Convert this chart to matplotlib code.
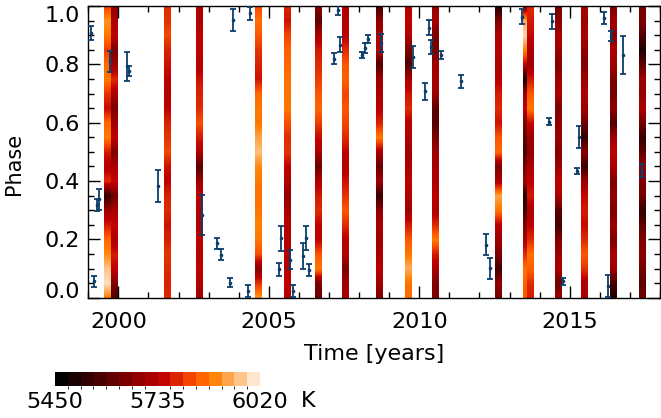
import numpy as np
import matplotlib
matplotlib.use('Agg')
import matplotlib.pyplot as plt
from matplotlib.colors import ListedColormap, Normalize, BoundaryNorm
from matplotlib.ticker import MultipleLocator, FixedLocator
import matplotlib.cm as cm

# ---------------- data ----------------
phase_grid = [0.00, 0.05, 0.10, 0.15, 0.20, 0.25, 0.30, 0.35, 0.40, 0.45, 0.50,
              0.55, 0.60, 0.65, 0.70, 0.75, 0.80, 0.85, 0.90, 0.95, 1.00]

stripe_epochs = [1999.63, 1999.855, 2001.63, 2002.69, 2004.64, 2005.61, 2006.66,
                 2007.53, 2008.67, 2009.63, 2010.53, 2012.64, 2013.55, 2013.70,
                 2014.61, 2015.49, 2016.46, 2017.41]

# temperature (K) along phase, bottom (phase 0) to top (phase 1)
T_1999a = [5890, 6010, 5980, 5910, 5870, 5780, 5700, 5530, 5800, 5730, 5780, 5890, 5870, 5760, 5810, 5890, 5870, 5820, 5890, 5920, 5820]
T_1999b = [5580, 5650, 5750, 5780, 5720, 5760, 5720, 5630, 5760, 5720, 5650, 5750, 5700, 5650, 5720, 5800, 5700, 5650, 5750, 5720, 5670]
T_2001 = [5800, 5790, 5800, 5810, 5790, 5770, 5800, 5790, 5750, 5770, 5830, 5810, 5790, 5750, 5730, 5750, 5770, 5790, 5830, 5810, 5800]
T_2002 = [5700, 5730, 5750, 5730, 5750, 5720, 5730, 5750, 5700, 5590, 5730, 5780, 5840, 5800, 5790, 5770, 5730, 5750, 5750, 5720, 5730]
T_2004 = [5930, 5810, 5660, 5840, 5890, 5900, 5890, 5880, 5890, 5910, 5970, 5940, 5890, 5890, 5870, 5770, 5790, 5810, 5850, 5880, 5830]
T_2005 = [5730, 5750, 5740, 5740, 5730, 5740, 5720, 5680, 5730, 5750, 5810, 5800, 5840, 5890, 5880, 5880, 5870, 5860, 5830, 5770, 5790]
T_2006 = [5620, 5640, 5890, 5850, 5750, 5750, 5800, 5780, 5730, 5620, 5720, 5760, 5820, 5870, 5850, 5820, 5800, 5780, 5720, 5600, 5670]
T_2007 = [5720, 5700, 5650, 5730, 5740, 5800, 5850, 5810, 5770, 5730, 5750, 5800, 5830, 5850, 5830, 5860, 5850, 5800, 5740, 5730, 5730]
T_2008 = [5650, 5700, 5740, 5720, 5700, 5720, 5680, 5540, 5700, 5620, 5720, 5890, 5790, 5740, 5720, 5700, 5580, 5740, 5720, 5670, 5560]
T_2009 = [5870, 5880, 5950, 5890, 5850, 5780, 5700, 5730, 5750, 5720, 5700, 5730, 5740, 5800, 5770, 5720, 5580, 5650, 5730, 5750, 5730]
T_2010 = [5650, 5650, 5720, 5780, 5890, 5800, 5720, 5750, 5720, 5720, 5700, 5650, 5580, 5600, 5700, 5720, 5700, 5630, 5650, 5720, 5680]
T_2012 = [5630, 5680, 5560, 5650, 5700, 5740, 5890, 5940, 5720, 5650, 5870, 5850, 5770, 5800, 5780, 5740, 5720, 5740, 5720, 5650, 5500]
T_2013a = [5850, 5860, 5880, 5800, 5720, 5650, 5560, 5500, 5700, 5650, 5560, 5600, 5650, 5750, 5700, 5480, 5750, 5900, 6000, 5950, 5650]
T_2013b = [5780, 5800, 5860, 5880, 5800, 5750, 5720, 5780, 5750, 5720, 5680, 5700, 5760, 5890, 5850, 5780, 5700, 5720, 5760, 5780, 5800]
T_2014 = [5700, 5630, 5720, 5700, 5650, 5560, 5590, 5720, 5750, 5700, 5650, 5700, 5680, 5650, 5720, 5700, 5650, 5700, 5720, 5670, 5630]
T_2015 = [5720, 5720, 5810, 5850, 5800, 5760, 5780, 5760, 5700, 5540, 5670, 5530, 5630, 5700, 5720, 5700, 5650, 5680, 5720, 5700, 5720]
T_2016 = [5500, 5560, 5700, 5720, 5650, 5700, 5650, 5680, 5650, 5720, 5750, 5700, 5580, 5680, 5630, 5650, 5700, 5720, 5670, 5700, 5650]
T_2017 = [5620, 5600, 5630, 5670, 5650, 5600, 5530, 5630, 5650, 5680, 5600, 5540, 5630, 5720, 5680, 5700, 5600, 5500, 5580, 5650, 5630]

stripe_temps = [T_1999a, T_1999b, T_2001, T_2002, T_2004, T_2005, T_2006, T_2007,
                T_2008, T_2009, T_2010, T_2012, T_2013a, T_2013b, T_2014, T_2015,
                T_2016, T_2017]

obs_year = [1999.09, 1999.19, 1999.29, 1999.37, 1999.71, 2000.30, 2000.36, 2001.33,
            2002.77, 2003.27, 2003.40, 2003.71, 2003.80, 2004.38, 2004.30, 2005.42,
            2005.33, 2005.71, 2005.81, 2006.14, 2006.24, 2006.33, 2007.29, 2007.36,
            2007.18, 2008.10, 2008.19, 2008.31, 2008.72, 2009.78, 2010.31, 2010.38,
            2010.73, 2010.18, 2011.37, 2012.23, 2012.34, 2013.41, 2014.40, 2014.32,
            2015.32, 2015.25, 2014.79, 2016.26, 2016.15, 2016.37, 2016.77, 2017.39]
obs_phase = [0.907, 0.056, 0.317, 0.337, 0.810, 0.793, 0.777, 0.384,
             0.283, 0.187, 0.148, 0.052, 0.951, 0.975, 0.023, 0.203,
             0.098, 0.130, 0.024, 0.143, 0.204, 0.095, 0.985, 0.868,
             0.820, 0.832, 0.855, 0.888, 0.874, 0.825, 0.926, 0.858,
             0.832, 0.707, 0.742, 0.182, 0.101, 0.964, 0.947, 0.604,
             0.552, 0.434, 0.056, 0.040, 0.960, 0.897, 0.832, 0.436]
obs_err = [0.024, 0.018, 0.020, 0.035, 0.036, 0.050, 0.017, 0.055,
           0.069, 0.019, 0.020, 0.015, 0.038, 0.023, 0.020, 0.043,
           0.022, 0.033, 0.020, 0.045, 0.041, 0.019, 0.017, 0.026,
           0.020, 0.011, 0.017, 0.014, 0.031, 0.038, 0.026, 0.024,
           0.014, 0.030, 0.022, 0.037, 0.036, 0.025, 0.025, 0.013,
           0.038, 0.009, 0.013, 0.037, 0.021, 0.017, 0.066, 0.022]

x_ticks = [2000, 2005, 2010, 2015]
y_ticks = [0.0, 0.2, 0.4, 0.6, 0.8, 1.0]
cbar_ticks = [5450, 5735, 6020]
T_MIN, T_MAX = 5450, 6020

# ---------------- style ----------------
plt.rcParams['font.family'] = ['DejaVu Sans']
FS = 16
STRIPE_W = 0.22
ERR_COLOR = '#0d3d6b'

base = plt.get_cmap('gist_heat')
cmap_cont = ListedColormap(base(np.linspace(0, 0.95, 256)))
cmap_disc = ListedColormap(base(np.linspace(0, 0.95, 16)))
norm = Normalize(T_MIN, T_MAX)

W, H = 661, 418
fig = plt.figure(figsize=(W / 100, H / 100), dpi=100)
ax = fig.add_axes([88.3 / W, 1 - 297.7 / H, (660 - 88.3) / W, (297.7 - 6) / H])

dp = phase_grid[1] - phase_grid[0]
for ep, temps in zip(stripe_epochs, stripe_temps):
    col = np.array(temps, float)[:, None]
    ax.imshow(col, extent=[ep - STRIPE_W / 2, ep + STRIPE_W / 2,
                           phase_grid[0] - dp / 2, phase_grid[-1] + dp / 2],
              origin='lower', aspect='auto', cmap=cmap_cont, norm=norm,
              interpolation='bilinear', zorder=1)

ax.errorbar(obs_year, obs_phase, yerr=obs_err, fmt='o', ms=1.6, color=ERR_COLOR,
            ecolor=ERR_COLOR, elinewidth=1.3, capsize=2.5, capthick=1.3, zorder=3)

ax.set_xlim(1999, 2018)
ax.set_ylim(0, 1)
ax.xaxis.set_major_locator(FixedLocator(x_ticks))
ax.xaxis.set_minor_locator(MultipleLocator(1))
ax.yaxis.set_major_locator(FixedLocator(y_ticks))
ax.yaxis.set_minor_locator(MultipleLocator(0.05))
ax.set_xticklabels([str(t) for t in x_ticks])
ax.set_yticklabels(['%.1f' % t for t in y_ticks])
ax.tick_params(which='both', direction='in', top=True, right=True, width=1.0,
               labelsize=FS)
ax.tick_params(which='major', length=8.4)
ax.tick_params(which='minor', length=4.1)
ax.tick_params(axis='x', pad=10)
ax.tick_params(axis='y', pad=6)
for s in ax.spines.values():
    s.set_linewidth(1.0)

ylabs = ax.get_yticklabels()
ylabs[-1].set_va('top')
ylabs[0].set_va('baseline')

ax.set_xlabel('Time [years]', fontsize=FS, va='center')
ax.xaxis.set_label_coords(0.5, (297.7 - 354) / 291.7)
ax.set_ylabel('Phase', fontsize=FS - 1, va='center')
ax.yaxis.set_label_coords((14 - 88.3) / 571.7, (297.7 - 164) / 291.7)

# colorbar
cax = fig.add_axes([55 / W, 1 - 386 / H, 205 / W, 14 / H])
sm = cm.ScalarMappable(norm=BoundaryNorm(np.linspace(T_MIN, T_MAX, 17), 16), cmap=cmap_disc)
cb = fig.colorbar(sm, cax=cax, orientation='horizontal', ticks=cbar_ticks)
cb.outline.set_visible(False)
cb.set_ticklabels([str(t) for t in cbar_ticks])
cax.tick_params(length=0, labelsize=FS, pad=4)
fig.text(308 / W, 1 - 401 / H, 'K', ha='center', va='center', fontsize=FS)

fig.savefig('out.png', dpi=100)
